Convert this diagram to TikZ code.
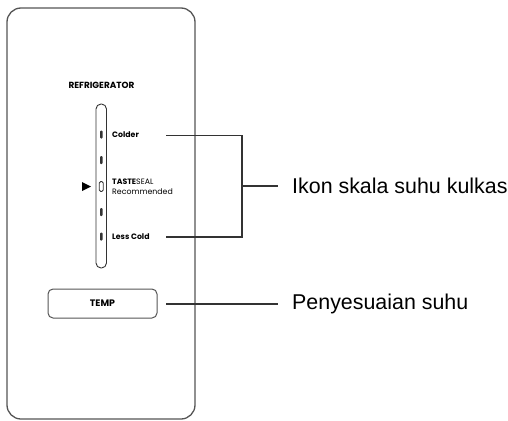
\documentclass[tikz,border=0pt]{standalone}
\usepackage{fontspec}
\setmainfont{Liberation Sans}
\newfontfamily\panelfont{Poppins}
\usetikzlibrary{positioning}
\definecolor{edgegray}{HTML}{555555}
\definecolor{leadgray}{HTML}{333333}
\tikzset{
	panelline/.style={draw=edgegray,line width=1.3pt,rounded corners=14pt},
	leader/.style={draw=leadgray,line width=1.4pt},
	scalemark/.style={fill=leadgray,rounded corners=1pt,minimum width=2.6pt,minimum height=8pt,inner sep=0pt},
	paneltext/.style={font=\panelfont\fontsize{8}{9}\selectfont,inner sep=0pt,anchor=west},
	desc/.style={font=\fontsize{21.4}{24}\selectfont,inner sep=0pt,anchor=west}
}
\begin{document}
\begin{tikzpicture}[x=1pt,y=-1pt]
	   \useasboundingbox (0,0) rectangle (508,420);
	   \draw[panelline] (7,8) rectangle (195,419);
	   \node[font=\panelfont\bfseries\fontsize{8.9}{10}\selectfont,inner sep=0pt] (title) at (101.5,85) {REFRIGERATOR};
	   \draw[draw=leadgray,line width=0.9pt,rounded corners=5pt] (96,104) rectangle (106.5,268);
	   \foreach \y/\n in {134.5/1,160/2,212/4,236.5/5}
	      \node[scalemark] (m\n) at (101.3,\y) {};
	   \node[draw=leadgray,line width=0.8pt,rounded corners=1.5pt,minimum width=4pt,minimum height=10pt,inner sep=0pt] (m3) at (101.3,186.5) {};
	   \fill[black] (82,182) -- (91,186.5) -- (82,191) -- cycle;
	   \node[paneltext,font=\panelfont\bfseries\fontsize{7.8}{9}\selectfont] (colder) at (112,134.5) {Colder};
	   \node[paneltext,font=\panelfont\fontsize{7.8}{9}\selectfont] (taste) at (112,182) {\textbf{TASTE}SEAL};
	   \node[paneltext,font=\panelfont\fontsize{7.8}{9}\selectfont] (recom) at (112,191.5) {Recommended};
	   \node[paneltext,font=\panelfont\bfseries\fontsize{7.8}{9}\selectfont] (lesscold) at (112,237) {Less Cold};
	   \node[draw=edgegray,line width=1pt,rounded corners=5pt,minimum width=109pt,minimum height=29pt,inner sep=0pt,font=\panelfont\bfseries\fontsize{9.4}{10}\selectfont] (temp) at (102.5,303.5) {TEMP};
	   \coordinate (c1) at (166,135.5);
	   \coordinate (c2) at (166,237);
	   \coordinate (b1) at (242,135.5);
	   \coordinate (b2) at (242,237);
	   \coordinate (bm) at (242,186);
	   \coordinate (bt) at (278,186);
	   \coordinate (ts) at (166,304);
	   \coordinate (te) at (278,304);
	   \node[desc,right=14pt of bt] (ikon) {Ikon skala suhu kulkas};
	   \node[desc,right=14pt of te] (adjust) {Penyesuaian suhu};
	   \draw[leader] (c1) -- (b1) -- (b2) -- (c2);
	   \draw[leader] (bm) -- (bt);
	   \draw[leader] (ts) -- (te);
\end{tikzpicture}
\end{document}
